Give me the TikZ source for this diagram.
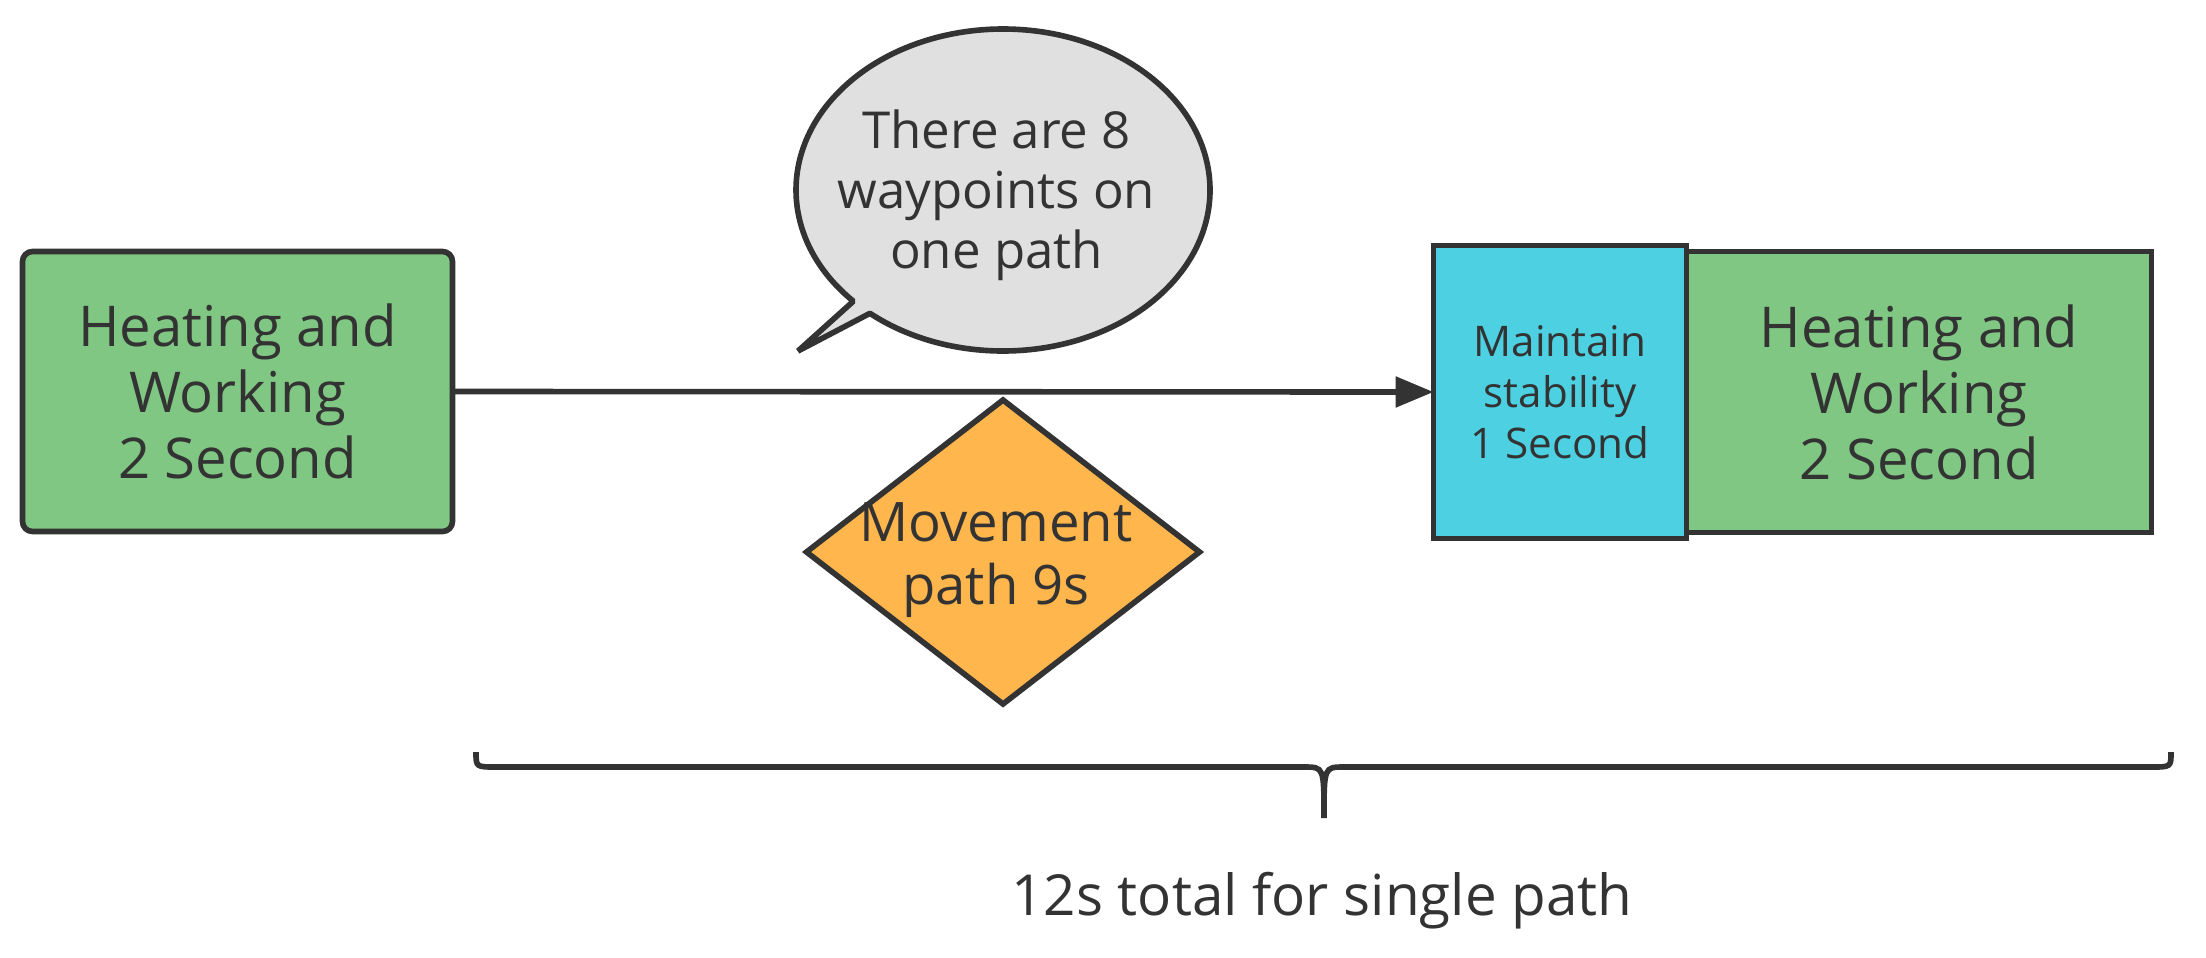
\documentclass[tikz,border=0pt]{standalone}
\usepackage{fontspec}
\setmainfont{Open Sans}
\usepackage{tikz}
\usetikzlibrary{arrows.meta,shapes.geometric,positioning}

\definecolor{workgreen}{RGB}{128,199,131}
\definecolor{stabcyan}{RGB}{77,208,225}
\definecolor{moveorange}{RGB}{255,183,77}
\definecolor{notegray}{RGB}{224,224,224}
\definecolor{inkgray}{RGB}{51,51,51}

\tikzset{
  box/.style={draw=inkgray, line width=1.6pt, text=inkgray, align=center, inner sep=0pt, outer sep=0pt},
  workbox/.style={box, fill=workgreen, font=\fontsize{16}{18.8}\selectfont},
  stabbox/.style={box, fill=stabcyan, font=\fontsize{12}{14.5}\selectfont},
  movebox/.style={box, diamond, fill=moveorange},
  lbl/.style={text=inkgray, align=center, inner sep=0pt}
}

\begin{document}
\begin{tikzpicture}
\useasboundingbox (0,0) rectangle (22.06,9.57);

% work blocks
\node[workbox, rounded corners=0.1cm, minimum width=4.30cm, minimum height=2.80cm] (heat1) at (2.375,5.655) {Heating and\\Working\\2 Second};
\node[stabbox, minimum width=2.53cm, minimum height=2.93cm] (stab) at (15.60,5.65) {Maintain\\stability\\1 Second};
\node[workbox, minimum width=4.65cm, minimum height=2.81cm, right=0pt of stab] (heat2) {Heating and\\Working\\2 Second};

\draw [-{Triangle[length=0.38cm,width=0.3cm]}, line width=1.6pt, inkgray] (heat1.east) -- (stab.west);

% movement
\node[movebox, minimum width=3.93cm, minimum height=3.04cm] (move) at (10.03,4.05) {};
\node[lbl, font=\fontsize{15.5}{17.9}\selectfont] (movetxt) at (9.96,3.965) {Movement\\path 9s};

% speech bubble
\coordinate (bub) at (10.03,7.67);
\draw [fill=notegray, draw=inkgray, line width=1.6pt, line join=bevel]
  ([shift={(230:2.07 and 1.61)}]bub) arc[start angle=230, end angle=583.7, x radius=2.07, y radius=1.61]
  -- (7.98,6.06) -- cycle;
\node[lbl, font=\fontsize{14.5}{17.1}\selectfont] (note) at (9.965,7.615) {There are 8\\waypoints on\\one path};

% brace
\draw [inkgray, line width=1.6pt] (4.76,2.05) .. controls (4.76,1.90) .. (4.96,1.90) -- (13.04,1.90)
  .. controls (13.24,1.90) .. (13.24,1.39) .. controls (13.24,1.90) .. (13.44,1.90) -- (21.51,1.90)
  .. controls (21.71,1.90) .. (21.71,2.05);
\node[lbl, anchor=base, font=\fontsize{16.1}{19}\selectfont] (total) at (13.22,0.42) {12s total for single path};

\end{tikzpicture}
\end{document}
